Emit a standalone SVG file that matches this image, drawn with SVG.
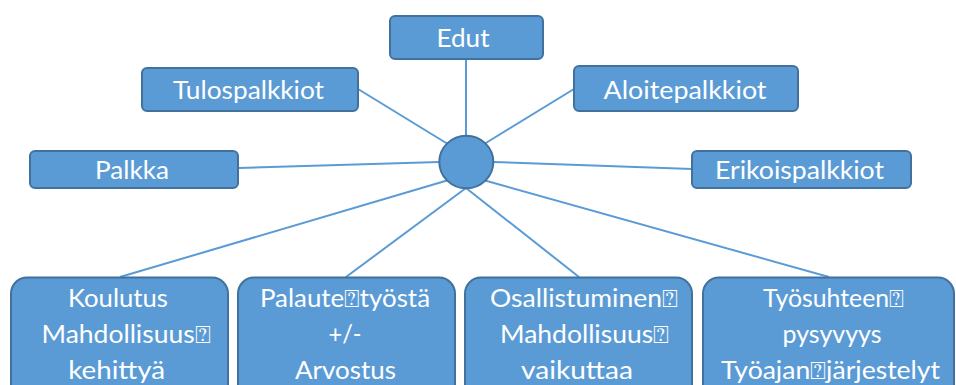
<svg xmlns="http://www.w3.org/2000/svg" width="956" height="385" viewBox="0 0 956 385">
<style>
.box{fill:#5b9bd5;stroke:#41719c;stroke-width:2}
.t{font-family:Lato,"Open Sans","DejaVu Sans",sans-serif;font-size:25px;fill:#ffffff;text-anchor:middle}
.c line{stroke:#5b9bd5;stroke-width:2}
</style>
<rect width="956" height="385" fill="#ffffff"/>
<g class="c" id="connectors">
<line x1="466" y1="136" x2="466" y2="59"/>
<line x1="447" y1="143.5" x2="358" y2="89"/>
<line x1="485" y1="143.5" x2="574" y2="89"/>
<line x1="439.5" y1="162" x2="238" y2="168"/>
<line x1="493" y1="162" x2="692" y2="169"/>
<line x1="447" y1="180.5" x2="120" y2="277"/>
<line x1="466" y1="188" x2="346" y2="277"/>
<line x1="466" y1="188" x2="579" y2="277"/>
<line x1="485" y1="180.5" x2="829" y2="277"/>
</g>
<g id="center"><ellipse class="box" cx="466.3" cy="162" rx="27" ry="26.3"/></g>
<g id="edut"><rect class="box" x="390" y="16" width="153" height="43" rx="5"/><text class="t" x="463" y="47" textLength="53" lengthAdjust="spacingAndGlyphs">Edut</text></g>
<g id="tulospalkkiot"><rect class="box" x="142" y="68" width="216" height="43" rx="5"/><text class="t" x="248.5" y="98.5" textLength="151" lengthAdjust="spacingAndGlyphs">Tulospalkkiot</text></g>
<g id="aloitepalkkiot"><rect class="box" x="574" y="66" width="224" height="45" rx="5"/><text class="t" x="685" y="98.5" textLength="163" lengthAdjust="spacingAndGlyphs">Aloitepalkkiot</text></g>
<g id="palkka"><rect class="box" x="30" y="151" width="208" height="37" rx="5"/><text class="t" x="132" y="178.5" textLength="74" lengthAdjust="spacingAndGlyphs">Palkka</text></g>
<g id="erikoispalkkiot"><rect class="box" x="692" y="151" width="219" height="37" rx="5"/><text class="t" x="799.5" y="178.5" textLength="169" lengthAdjust="spacingAndGlyphs">Erikoispalkkiot</text></g>
<g id="koulutus"><rect class="box" x="11" y="277.5" width="217" height="130" rx="16"/>
<text class="t" x="118" y="306.5" textLength="100" lengthAdjust="spacingAndGlyphs">Koulutus</text>
<text class="t" x="126" y="342.5" textLength="169" lengthAdjust="spacingAndGlyphs">Mahdollisuus⍰</text>
<text class="t" x="116.7" y="378.5" textLength="97" lengthAdjust="spacingAndGlyphs">kehittyä</text></g>
<g id="palaute"><rect class="box" x="238" y="277.5" width="217" height="130" rx="16"/>
<text class="t" x="345" y="306.5" textLength="170" lengthAdjust="spacingAndGlyphs">Palaute⍰työstä</text>
<text class="t" x="345" y="342.5" textLength="33" lengthAdjust="spacingAndGlyphs">+/-</text>
<text class="t" x="345.5" y="378.5" textLength="101" lengthAdjust="spacingAndGlyphs">Arvostus</text></g>
<g id="osallistuminen"><rect class="box" x="465" y="277.5" width="227" height="130" rx="16"/>
<text class="t" x="584" y="306.5" textLength="188" lengthAdjust="spacingAndGlyphs">Osallistuminen⍰</text>
<text class="t" x="584.5" y="342.5" textLength="169" lengthAdjust="spacingAndGlyphs">Mahdollisuus⍰</text>
<text class="t" x="577" y="378.5" textLength="112" lengthAdjust="spacingAndGlyphs">vaikuttaa</text></g>
<g id="tyosuhteen"><rect class="box" x="703" y="277.5" width="251" height="130" rx="16"/>
<text class="t" x="833.5" y="306.5" textLength="141" lengthAdjust="spacingAndGlyphs">Työsuhteen⍰</text>
<text class="t" x="832" y="342.5" textLength="99" lengthAdjust="spacingAndGlyphs">pysyvyys</text>
<text class="t" x="830.5" y="378.5" textLength="219" lengthAdjust="spacingAndGlyphs">Työajan⍰järjestelyt</text></g>
</svg>
